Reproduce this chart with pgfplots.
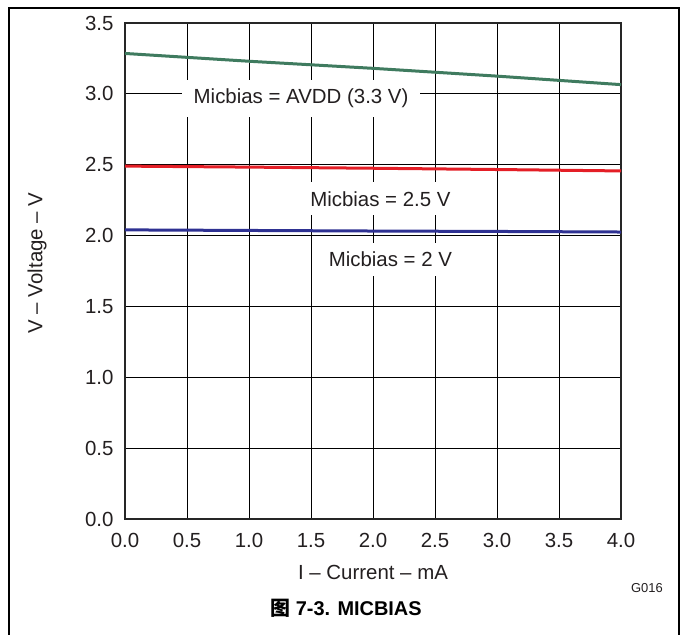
\documentclass[border=0pt]{standalone}
\usepackage{pgfplots}
\pgfplotsset{compat=1.18}
\usepackage{fontspec}
\setmainfont{Liberation Sans}
\newfontfamily\cjk{Noto Sans CJK SC}
\definecolor{cgreen}{HTML}{3F7B5F}
\definecolor{cred}{HTML}{E41E26}
\definecolor{cblue}{HTML}{2E3192}
\definecolor{ctext}{HTML}{231F20}
\begin{document}
\begin{tikzpicture}[x=1bp,y=1bp]
\useasboundingbox (0,0) rectangle (683,635);
\draw[line width=1.5bp] (9,0) -- (9,627) -- (679,627) -- (679,0);
\begin{axis}[
  at={(125bp,116bp)}, anchor=south west,
  scale only axis, width=496bp, height=496bp,
  xmin=0, xmax=4, ymin=0, ymax=3.5,
  xtick={0,0.5,...,4}, ytick={0,0.5,...,3.5},
  grid=major, major grid style={black, line width=1bp},
  axis line style={line width=2.5bp, black!85},
  major tick length=0,
  tick label style={font=\fontsize{20.5}{24}\selectfont, text=ctext},
  /pgf/number format/assume math mode=true,
  /pgf/number format/.cd, fixed, fixed zerofill, precision=1,
  /pgfplots/.cd,
  xticklabel style={yshift=-11bp},
  yticklabel style={xshift=-8bp},
  xlabel={I -- Current -- mA},
  label style={font=\fontsize{20.5}{24}\selectfont, text=ctext},
  xlabel style={at={(0.5,0)}, anchor=center, yshift=-53bp},
  clip=false,
]
\addplot[cgreen, line width=3bp] coordinates {(0,3.285) (1,3.23) (2,3.18) (3,3.125) (4,3.065)};
\addplot[cred, line width=3bp] coordinates {(0,2.49) (1,2.483) (2,2.475) (3,2.466) (4,2.456)};
\addplot[cblue, line width=3bp] coordinates {(0,2.04) (1,2.036) (2,2.032) (3,2.029) (4,2.025)};
\node[fill=white, inner xsep=12bp, inner ysep=9bp, font=\fontsize{20.5}{24}\selectfont, text=ctext] at (axis cs:1.42,2.97) {Micbias = AVDD (3.3 V)};
\node[fill=white, inner xsep=8bp, inner ysep=9bp, font=\fontsize{20.5}{24}\selectfont, text=ctext] at (axis cs:2.06,2.26) {Micbias = 2.5 V};
\node[fill=white, inner xsep=8bp, inner ysep=9bp, font=\fontsize{20.5}{24}\selectfont, text=ctext] at (axis cs:2.14,1.83) {Micbias = 2 V};
\end{axis}
\node[rotate=90, font=\fontsize{20.5}{24}\selectfont, text=ctext] at (37,372) {V -- Voltage -- V};
\node[font=\fontsize{13}{15}\selectfont, text=ctext] at (647,47) {G016};
\node[font=\fontsize{20}{24}\selectfont\bfseries] at (346,27) {{\cjk 图} 7-3. MICBIAS};
\end{tikzpicture}
\end{document}
